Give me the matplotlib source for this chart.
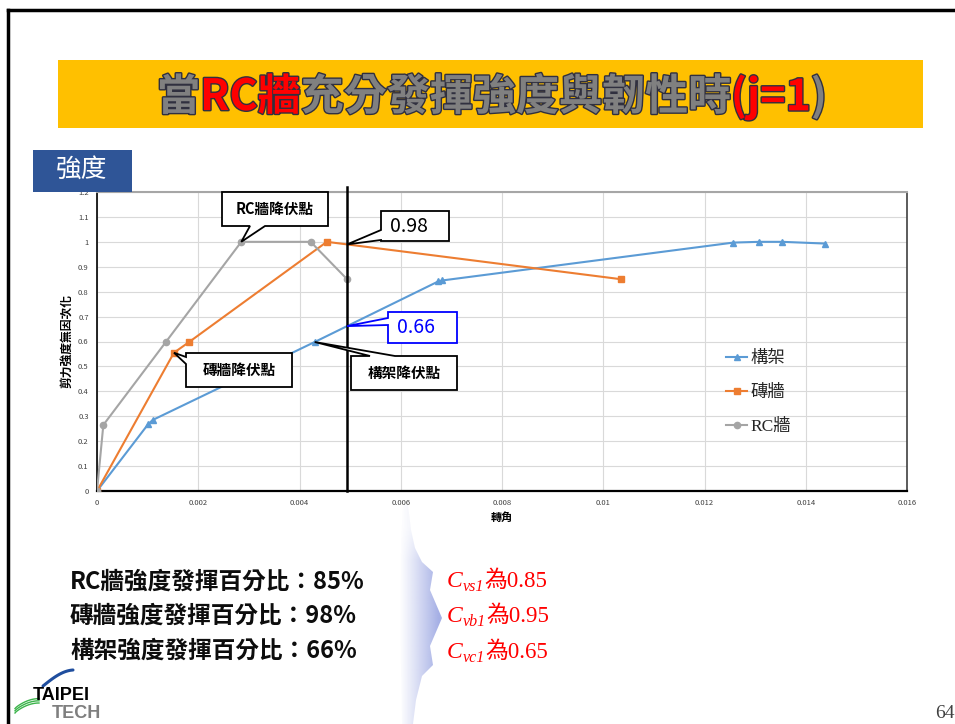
import numpy as np
import matplotlib
matplotlib.use('Agg')
import matplotlib.pyplot as plt
import matplotlib.patheffects as pe
from matplotlib.patches import Rectangle, Polygon

plt.rcParams['font.family'] = ['Noto Sans CJK TC', 'DejaVu Sans']

# 轉角 vs 剪力強度無因次化
frame_x = [0, 0.00101, 0.00110, 0.00430, 0.00674, 0.00682, 0.01257, 0.01308, 0.01354, 0.01439]
frame_y = [0, 0.268, 0.285, 0.598, 0.841, 0.845, 0.997, 1.0, 1.0, 0.993]
brick_x = [0, 0.00152, 0.00182, 0.00454, 0.01035]
brick_y = [0, 0.555, 0.598, 1.0, 0.85]
rc_x = [0, 0.000125, 0.00136, 0.00285, 0.00422, 0.00494]
rc_y = [0, 0.265, 0.598, 1.0, 1.0, 0.85]
check_x = 0.00494

series_names = ['構架', '磚牆', 'RC牆']
xticks = [0, 0.002, 0.004, 0.006, 0.008, 0.01, 0.012, 0.014, 0.016]
xtick_labels = ['0', '0.002', '0.004', '0.006', '0.008', '0.01', '0.012', '0.014', '0.016']
yticks = [0, 0.1, 0.2, 0.3, 0.4, 0.5, 0.6, 0.7, 0.8, 0.9, 1.0, 1.1, 1.2]
ytick_labels = ['0', '0.1', '0.2', '0.3', '0.4', '0.5', '0.6', '0.7', '0.8', '0.9', '1', '1.1', '1.2']

summary = ['RC牆強度發揮百分比：85%', '磚牆強度發揮百分比：98%', '構架強度發揮百分比：66%']
coef_subs = ['vs1', 'vb1', 'vc1']
coef_vals = ['0.85', '0.95', '0.65']

W, H = 955, 724
fig = plt.figure(figsize=(W / 100, H / 100), dpi=100)

# background layer in pixel units
bg = fig.add_axes([0, 0, 1, 1], zorder=0)
bg.set_xlim(0, W)
bg.set_ylim(H, 0)
bg.axis('off')

ax = fig.add_axes([97 / W, (H - 491) / H, 810 / W, 299 / H], zorder=1)

ov = fig.add_axes([0, 0, 1, 1], zorder=2)
ov.set_xlim(0, W)
ov.set_ylim(H, 0)
ov.axis('off')
ov.patch.set_alpha(0)

# ---- chart ----
blue, orange, grey = '#5B9BD5', '#ED7D31', '#A5A5A5'
ax.plot(frame_x, frame_y, color=blue, lw=1.5, marker='^', ms=5, label=series_names[0], zorder=3)
ax.plot(brick_x, brick_y, color=orange, lw=1.5, marker='s', ms=5, label=series_names[1], zorder=3)
ax.plot(rc_x, rc_y, color=grey, lw=1.5, marker='o', ms=4.5, label=series_names[2], zorder=3)
ax.axvline(check_x, ymin=0, ymax=1.018, color='black', lw=1.8, clip_on=False, zorder=4)

ax.set_xlim(0, 0.016)
ax.set_ylim(0, 1.2)
ax.set_xticks(xticks)
ax.set_xticklabels(xtick_labels)
ax.set_yticks(yticks)
ax.set_yticklabels(ytick_labels)
ax.tick_params(length=0, labelsize=5.5, labelcolor='#404040', pad=6)
ax.grid(True, color='#D9D9D9', lw=0.8)
ax.set_axisbelow(True)
ax.spines['top'].set_color('#A6A6A6')
ax.spines['top'].set_linewidth(1.5)
ax.spines['right'].set_color('#404040')
ax.spines['right'].set_linewidth(1.2)
ax.spines['left'].set_color('black')
ax.spines['left'].set_linewidth(1.2)
ax.spines['bottom'].set_color('black')
ax.spines['bottom'].set_linewidth(1.6)

ax.set_ylabel('剪力強度無因次化', fontsize=8.5, fontweight='bold', va='center')
ax.yaxis.set_label_coords(-0.038, 0.5)
ax.set_xlabel('轉角', fontsize=8, fontweight='bold', va='center')
ax.xaxis.set_label_coords(0.5, -0.087)

leg = ax.legend(loc='center left', bbox_to_anchor=(0.766, 0.328), frameon=False,
                prop={'family': ['Liberation Serif', 'Noto Sans CJK TC'], 'size': 12.5},
                handlelength=1.2, handletextpad=0.2, labelspacing=1.05, borderpad=0)
for t in leg.get_texts():
    t.set_color('#262626')


def to_px(x, y):
    return ov.transData.inverted().transform(ax.transData.transform((x, y)))


def callout(box, edge, w1, w2, tip, text, size, color='black', weight='bold', ha='center'):
    x0, y0, x1, y1 = box
    if edge == 'top':
        pts = [(x0, y0), (w1, y0), tip, (w2, y0), (x1, y0), (x1, y1), (x0, y1)]
    elif edge == 'bottom':
        pts = [(x0, y0), (x1, y0), (x1, y1), (w2, y1), tip, (w1, y1), (x0, y1)]
    else:
        pts = [(x0, y0), (x1, y0), (x1, y1), (x0, y1), (x0, w2), tip, (x0, w1)]
    ov.add_patch(Polygon(pts, closed=True, facecolor='white', edgecolor=color, lw=1.3, joinstyle='miter'))
    tx = (x0 + x1) / 2 if ha == 'center' else x0 + 9
    ov.text(tx, (y0 + y1) / 2, text, fontsize=size, color=color, fontweight=weight,
            ha=ha, va='center')


callout((222, 192, 328, 226), 'bottom', 250, 265, to_px(rc_x[3], rc_y[3]), 'RC牆降伏點', 10.5)
callout((381, 211, 449, 241), 'left', 230, 240,
        to_px(check_x, np.interp(check_x, brick_x, brick_y)), '0.98', 14, weight='normal', ha='left')
callout((388, 312, 457, 343), 'left', 318, 325,
        to_px(check_x, np.interp(check_x, frame_x, frame_y)), '0.66', 14, color='#0000FF',
        weight='normal', ha='left')
callout((186, 353, 292, 387), 'left', 357, 364, to_px(brick_x[1], brick_y[1]), '磚牆降伏點', 10.5)
callout((351, 356, 457, 390), 'top', 370, 395, to_px(frame_x[3], frame_y[3]), '構架降伏點', 10.5)

# ---- slide frame ----
bg.plot([8, 8], [H, 10], color='black', lw=2.5, solid_capstyle='projecting')
bg.plot([8, W], [10, 10], color='black', lw=2.5, solid_capstyle='projecting')

# title band
ov.add_patch(Rectangle((58, 60), 865, 68, facecolor='#FFC000', edgecolor='none'))
r = fig.canvas.get_renderer()
title_parts = [('當', '#808080'), ('RC牆', '#FF0000'), ('充分發揮強度與韌性時', '#808080'),
               ('(j=1', '#FF0000'), (')', '#808080')]
title_texts = []
for s, c in title_parts:
    t = ov.text(0, 97, s, color=c, fontsize=31, fontweight='bold', ha='left', va='center',
                path_effects=[pe.Stroke(linewidth=2, foreground='#30303F'), pe.Normal()])
    title_texts.append(t)
widths = [t.get_window_extent(r).width for t in title_texts]
x = 492 - sum(widths) / 2
for t, w in zip(title_texts, widths):
    t.set_x(x)
    x += w

# section tag
ov.add_patch(Rectangle((33, 150), 99, 42, facecolor='#2F5597', edgecolor='none'))
ov.text(82, 171, '強度', color='white', fontsize=18.5, ha='center', va='center')

# ---- summary texts ----
for i, s in enumerate(summary):
    ov.text(70, [582, 616, 651][i], s, fontsize=17, fontweight='bold', color='#0D0D0D',
            ha='left', va='center')

# curved arrow with gradient
arrow_pts = [(403, 505), (408, 505), (411, 530), (415, 548), (422, 562), (433, 572),
             (430, 590), (442, 618), (430, 646), (433, 665), (422, 676), (416, 700),
             (413, 724), (402, 724), (400, 620), (401, 540)]
arrow = Polygon(arrow_pts, closed=True, facecolor='none', edgecolor='none', transform=bg.transData)
bg.add_patch(arrow)
gx = np.linspace(395, 445, 100)
gy = np.linspace(495, 724, 230)
GX, GY = np.meshgrid(gx, gy)
alpha = np.clip((GX - 399) / 40, 0, 1) ** 1.1 * 0.6
alpha *= np.clip((GY - 500) / 60, 0.45, 1)
grad = np.zeros((len(gy), len(gx), 4))
grad[..., 0] = 105 / 255
grad[..., 1] = 122 / 255
grad[..., 2] = 212 / 255
grad[..., 3] = alpha
im = bg.imshow(grad, extent=(395, 445, 724, 495), aspect='auto', zorder=1)
im.set_clip_path(arrow)
bg.set_xlim(0, W)
bg.set_ylim(H, 0)

# coefficient texts: italic C with italic subscript, then value
serif_cjk = ['Liberation Serif', 'Noto Sans CJK TC']
for i in range(3):
    yb = [587, 622, 658][i]
    t1 = ov.text(447, yb, 'C', color='#FF0000', fontsize=17, style='italic',
                 family='Liberation Serif', ha='left', va='baseline')
    x1 = 447 + t1.get_window_extent(r).width
    t2 = ov.text(x1, yb + 4, coef_subs[i], color='#FF0000', fontsize=11.5, style='italic',
                 family='Liberation Serif', ha='left', va='baseline')
    x2 = x1 + t2.get_window_extent(r).width
    ov.text(x2, yb, '為' + coef_vals[i], color='#FF0000', fontsize=16.5, ha='left',
            va='baseline', family=serif_cjk)

# page number
ov.text(945, 713, '64', fontsize=14, color='#404040', ha='center', va='center',
        family='Liberation Serif')

# logo
tt = np.linspace(0, 1, 30)
bg.plot(43 + 30 * tt, 686 - 14 * np.sin(tt * np.pi / 2) - 2 * tt, color='#1F4E9E', lw=2.2,
        solid_capstyle='round')
for k in range(3):
    bg.plot(15 + 24 * tt, 713 - k * 2.2 - 10 * np.sin(tt * np.pi / 2) ** 0.8, color='#3CB44B',
            lw=1.0)
ov.text(33, 696, 'TAIPEI', fontsize=13, fontweight='bold', color='black', ha='left',
        va='center', family='Liberation Sans')
ov.text(52, 713, 'TECH', fontsize=13, fontweight='bold', color='#7F7F7F', ha='left',
        va='center', family='Liberation Sans')

fig.savefig('out.png', dpi=100)
